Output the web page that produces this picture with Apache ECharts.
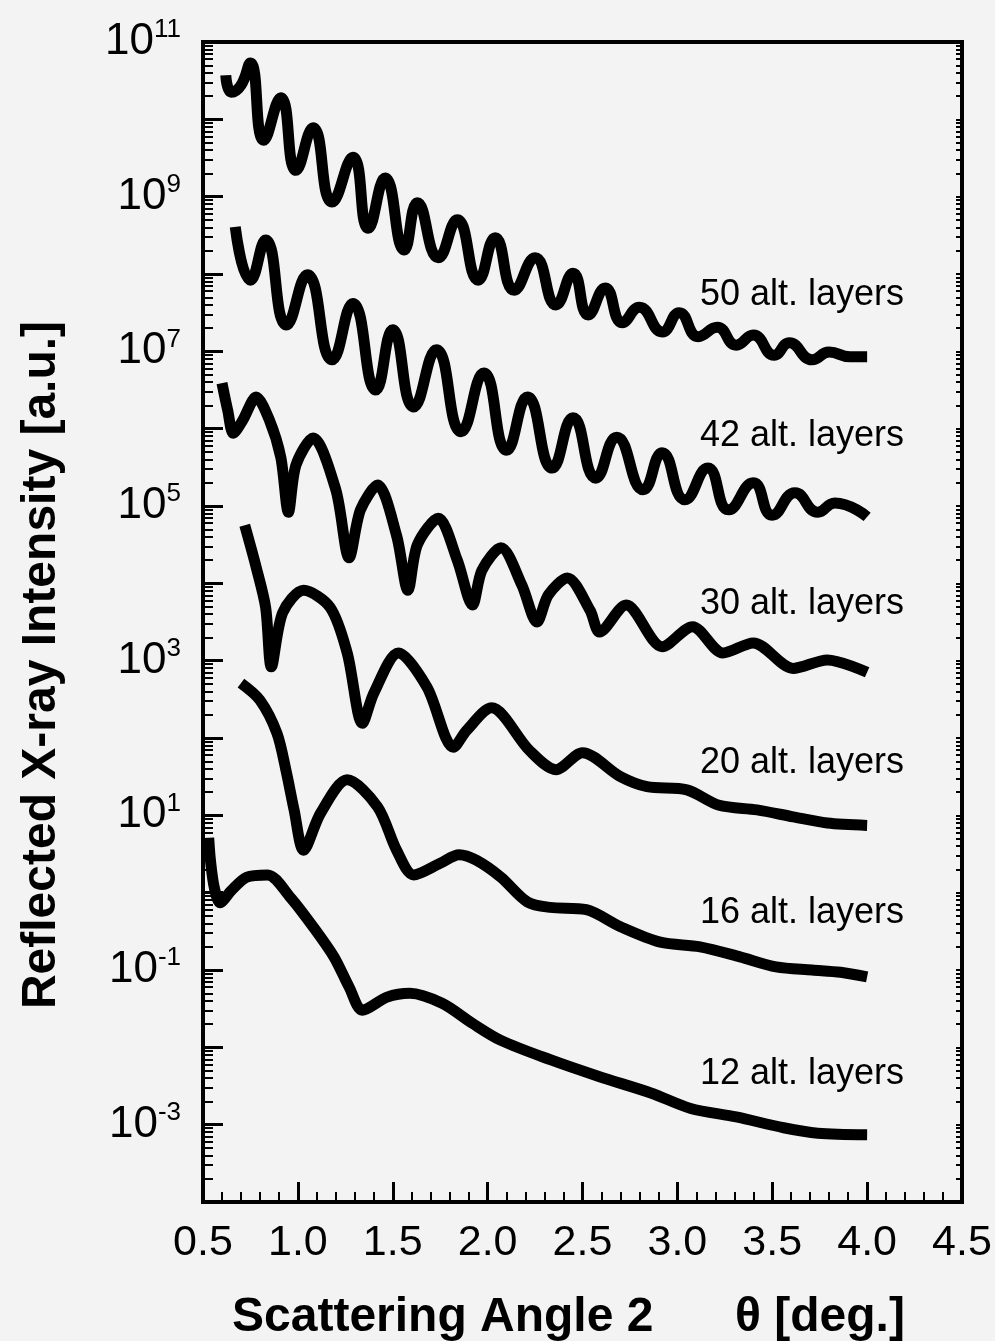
<!DOCTYPE html>
<html>
<head>
<meta charset="utf-8">
<script src="https://cdn.jsdelivr.net/npm/echarts@6.0.0/dist/echarts.min.js"></script>
<style>
html, body { margin: 0; padding: 0; background: #f3f3f3; }
#main { width: 995px; height: 1341px; }
</style>
</head>
<body>
<div id="main"></div>
<script>
// angle (2theta, deg) and log10 of reflected intensity
var angle50 = [0.62,0.65,0.70,0.75,0.82,0.91,0.99,1.08,1.18,1.29,1.37,1.46,1.56,1.63,1.74,1.84,1.95,2.04,2.14,2.25,2.36,2.45,2.53,2.62,2.71,2.80,2.92,3.01,3.11,3.21,3.31,3.40,3.51,3.59,3.71,3.80,3.91,4.00];
var logI50  = [10.57,10.35,10.44,10.73,9.73,10.28,9.34,9.89,8.93,9.51,8.59,9.24,8.31,8.92,8.21,8.70,7.92,8.47,7.79,8.21,7.60,8.01,7.47,7.82,7.37,7.57,7.25,7.50,7.19,7.31,7.08,7.21,6.95,7.11,6.89,6.99,6.93,6.93];

var angle42 = [0.67,0.75,0.83,0.94,1.05,1.18,1.29,1.41,1.50,1.61,1.73,1.86,1.98,2.10,2.21,2.34,2.45,2.57,2.68,2.82,2.92,3.04,3.16,3.27,3.40,3.50,3.62,3.74,3.83,4.00];
var logI42  = [8.61,7.92,8.44,7.34,7.99,6.89,7.62,6.50,7.28,6.28,7.02,5.96,6.72,5.72,6.41,5.49,6.14,5.36,5.89,5.21,5.69,5.08,5.49,4.95,5.30,4.88,5.17,4.92,5.04,4.86];

var angle30 = [0.60,0.63,0.66,0.71,0.78,0.85,0.91,0.95,0.99,1.08,1.20,1.27,1.33,1.42,1.52,1.58,1.63,1.74,1.84,1.92,1.97,2.07,2.18,2.26,2.32,2.42,2.54,2.59,2.73,2.92,3.08,3.24,3.40,3.61,3.79,4.00];
var logI30  = [6.59,6.24,5.94,6.11,6.41,6.11,5.63,4.92,5.53,5.88,5.21,4.33,4.95,5.27,4.62,3.91,4.50,4.84,4.30,3.72,4.17,4.46,3.98,3.50,3.85,4.07,3.65,3.37,3.72,3.18,3.44,3.10,3.23,2.90,3.01,2.85];

var angle20 = [0.72,0.78,0.83,0.86,0.92,1.03,1.17,1.26,1.34,1.40,1.53,1.68,1.82,1.89,2.02,2.22,2.36,2.50,2.70,2.84,3.05,3.22,3.42,3.61,3.79,4.00];
var logI20  = [4.75,4.21,3.69,2.92,3.62,3.91,3.69,3.10,2.19,2.58,3.10,2.66,1.88,2.10,2.39,1.84,1.59,1.81,1.50,1.37,1.33,1.13,1.07,0.98,0.90,0.87];

var angle16 = [0.70,0.80,0.89,0.94,0.98,1.03,1.12,1.26,1.42,1.52,1.61,1.75,1.85,1.94,2.07,2.21,2.33,2.52,2.70,2.91,3.12,3.33,3.52,3.71,3.86,4.00];
var logI16  = [2.71,2.49,2.06,1.55,1.07,0.55,1.03,1.46,1.11,0.55,0.23,0.38,0.49,0.42,0.20,-0.12,-0.19,-0.22,-0.44,-0.64,-0.70,-0.83,-0.96,-1.00,-1.03,-1.09];

var angle12 = [0.53,0.54,0.56,0.59,0.65,0.73,0.84,0.96,1.08,1.19,1.27,1.34,1.47,1.59,1.76,1.92,2.07,2.33,2.59,2.86,3.07,3.31,3.56,3.74,4.00];
var logI12  = [0.71,0.40,0.06,-0.13,0.03,0.20,0.23,-0.06,-0.44,-0.83,-1.22,-1.52,-1.35,-1.30,-1.43,-1.69,-1.91,-2.16,-2.38,-2.59,-2.79,-2.90,-3.04,-3.11,-3.13];

var curveNames = ['50 alt. layers', '42 alt. layers', '30 alt. layers', '20 alt. layers', '16 alt. layers', '12 alt. layers'];
var yLabelExps = [11, 9, 7, 5, 3, 1, -1, -3];

var font = '"Liberation Sans", Arial, Helvetica, sans-serif';

var myChart = echarts.init(document.getElementById('main'));

var curves = [
    [angle50, logI50], [angle42, logI42], [angle30, logI30],
    [angle20, logI20], [angle16, logI16], [angle12, logI12]
];

// decade ticks, 2..9 minor ticks
var majorTicks = [], minorTicks = [];
for (var e = -4; e <= 11; e++) {
    majorTicks.push(Math.pow(10, e));
    if (e < 11) {
        for (var k = 2; k <= 9; k++) minorTicks.push(k * Math.pow(10, e));
    }
}
var labelTicks = yLabelExps.map(function (e) { return Math.pow(10, e); });

var series = curves.map(function (c, i) {
    return {
        name: curveNames[i],
        type: 'line',
        smooth: i < 2 ? 0.5 : 0.3,   // top two only have the extrema
        showSymbol: false,
        lineStyle: { color: '#000', width: 11 },
        data: c[0].map(function (a, j) { return [a, Math.pow(10, c[1][j])]; })
    };
});

var logAxisBase = {
    type: 'log',
    logBase: 10,
    min: 1e-4,
    max: 1e11,
    axisLine: { show: false },
    splitLine: { show: false }
};

// curve labels, y centres in px
var labelY = [295, 436, 604, 763, 913, 1074];

var option = {
    backgroundColor: '#f3f3f3',
    animation: false,
    grid: {
        left: 203, right: 33, top: 42, bottom: 139,
        show: true, borderColor: '#000', borderWidth: 4
    },
    xAxis: {
        type: 'value',
        min: 0.5,
        max: 4.5,
        interval: 0.5,
        axisLine: { show: false },
        splitLine: { show: false },
        axisTick: { inside: true, length: 20, lineStyle: { color: '#000', width: 3 } },
        minorTick: { show: true, splitNumber: 5, length: 10, lineStyle: { color: '#000', width: 2 } },
        axisLabel: {
            color: '#000', fontSize: 43, fontFamily: font, margin: 20,
            formatter: function (v) { return v.toFixed(1); }
        }
    },
    yAxis: [
        Object.assign({}, logAxisBase, {
            position: 'left',
            axisTick: { inside: true, length: 20, customValues: majorTicks, lineStyle: { color: '#000', width: 3 } },
            axisLabel: {
                customValues: labelTicks,
                margin: 22,
                formatter: function (v) {
                    return '{b|10}{s|' + Math.round(Math.log10(v)) + '}';
                },
                rich: {
                    b: { fontSize: 44, lineHeight: 50, fontFamily: font, color: '#000' },
                    s: { fontSize: 26, lineHeight: 12, verticalAlign: 'top', fontFamily: font, color: '#000' }
                }
            }
        }),
        Object.assign({}, logAxisBase, {
            position: 'left',
            axisTick: { inside: true, length: 10, customValues: minorTicks, lineStyle: { color: '#000', width: 2 } },
            axisLabel: { show: false }
        }),
        Object.assign({}, logAxisBase, {
            position: 'right',
            axisTick: { inside: true, length: 6, customValues: majorTicks.concat(minorTicks), lineStyle: { color: '#000', width: 2 } },
            axisLabel: { show: false }
        })
    ],
    graphic: curveNames.map(function (n, i) {
        return {
            type: 'text', x: 700, y: labelY[i], z: 10,
            style: { text: n, font: '36px ' + font, fill: '#000', verticalAlign: 'middle' }
        };
    }).concat([
        {
            type: 'text', x: 232, y: 1318,
            style: { text: 'Scattering Angle 2', font: 'bold 48px ' + font, fill: '#000', verticalAlign: 'middle' }
        },
        {
            type: 'text', x: 735, y: 1318,
            style: { text: 'θ [deg.]', font: 'bold 48px ' + font, fill: '#000', verticalAlign: 'middle' }
        },
        {
            type: 'text', x: 42, y: 665, rotation: Math.PI / 2,
            style: { text: 'Reflected X-ray Intensity [a.u.]', font: 'bold 48px ' + font, fill: '#000', align: 'center', verticalAlign: 'middle' }
        }
    ]),
    series: series
};

myChart.setOption(option);

window.onresize = function () {
    myChart.resize();
};
</script>
</body>
</html>
